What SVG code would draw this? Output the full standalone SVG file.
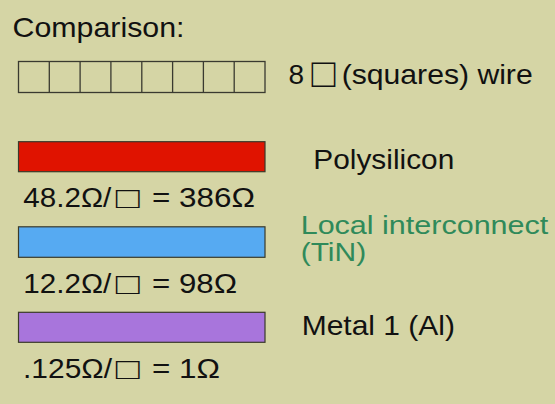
<svg xmlns="http://www.w3.org/2000/svg" width="555" height="404" viewBox="0 0 555 404">
<style>
text{font-family:"Liberation Sans",Arial,sans-serif;fill:#111;}
.t{font-size:28px;}
.v{font-size:27px;}
.s{font-size:30px;}
.g{fill:#2f8a5a;font-size:26.5px;}
.bar{stroke:#3a3a2a;stroke-width:1.2;}
.sq{fill:none;stroke:#3a3a30;stroke-width:1.3;}
</style>
<rect width="555" height="404" fill="#d5d5a5"/>
<g id="title"><text class="t" x="12.5" y="37" textLength="172" lengthAdjust="spacingAndGlyphs">Comparison:</text></g>
<g id="wire">
<rect class="sq" x="18.5" y="61.5" width="246.5" height="31"/>
<path class="sq" d="M49.3 61.5V92.5M80.1 61.5V92.5M110.9 61.5V92.5M141.8 61.5V92.5M172.6 61.5V92.5M203.4 61.5V92.5M234.2 61.5V92.5"/>
<text class="t" x="288.5" y="84.3">8</text>
<text x="311.5" y="87.2" style="font-size:41px" textLength="24" lengthAdjust="spacingAndGlyphs">□</text>
<text class="t" x="341.7" y="84.3" textLength="191" lengthAdjust="spacingAndGlyphs">(squares) wire</text>
</g>
<g id="poly">
<rect class="bar" x="18.5" y="141.7" width="246.5" height="30" fill="#e01300"/>
<text class="t" x="313.3" y="169.3" textLength="141" lengthAdjust="spacingAndGlyphs">Polysilicon</text>
<text class="v" x="23.3" y="206.7" textLength="88" lengthAdjust="spacingAndGlyphs">48.2Ω/</text>
<text class="s" x="115.8" y="207.7" textLength="24" lengthAdjust="spacingAndGlyphs">□</text>
<text class="v" x="152" y="206.7" textLength="103" lengthAdjust="spacingAndGlyphs">= 386Ω</text>
</g>
<g id="li">
<rect class="bar" x="18.5" y="226.8" width="246.5" height="30.5" fill="#56aaf2"/>
<text class="g" x="300.7" y="234" textLength="247.6" lengthAdjust="spacingAndGlyphs">Local interconnect</text>
<text class="g" x="300.7" y="260.7" textLength="65.5" lengthAdjust="spacingAndGlyphs">(TiN)</text>
<text class="v" x="23.3" y="292.7" textLength="88" lengthAdjust="spacingAndGlyphs">12.2Ω/</text>
<text class="s" x="115.8" y="293.7" textLength="24" lengthAdjust="spacingAndGlyphs">□</text>
<text class="v" x="152" y="292.7" textLength="85" lengthAdjust="spacingAndGlyphs">= 98Ω</text>
</g>
<g id="metal">
<rect class="bar" x="18.5" y="312.3" width="246.5" height="30" fill="#a875dc"/>
<text class="t" x="301.7" y="335" textLength="153.3" lengthAdjust="spacingAndGlyphs">Metal 1 (Al)</text>
<text class="v" x="23" y="378.3" textLength="89" lengthAdjust="spacingAndGlyphs">.125Ω/</text>
<text class="s" x="115.8" y="379.3" textLength="24" lengthAdjust="spacingAndGlyphs">□</text>
<text class="v" x="152" y="378.3" textLength="68" lengthAdjust="spacingAndGlyphs">= 1Ω</text>
</g>
<g id="connectors"/>
</svg>
